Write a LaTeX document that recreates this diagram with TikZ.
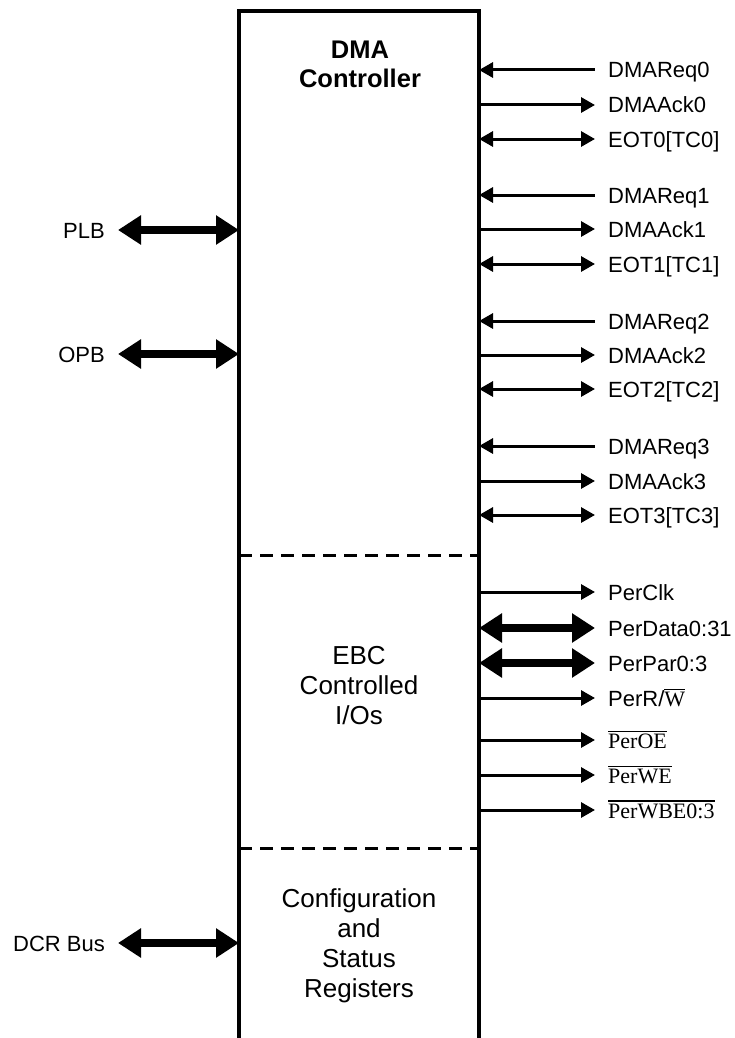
\documentclass[tikz,border=0pt]{standalone}
\usepackage{fontspec}
\setmainfont{Liberation Sans}
\newfontfamily\serifx{Liberation Serif}
\usetikzlibrary{arrows.meta}
\newcommand\ovl[1]{\vbox{\hrule height 1.3pt\kern1.6pt\hbox{#1}}}
\begin{document}
\begin{tikzpicture}[x=1pt,y=-1pt,
  lab/.style={inner sep=0pt, font=\fontsize{22pt}{26pt}\selectfont},
  ctext/.style={align=center, inner sep=0pt, font=\fontsize{26pt}{30pt}\selectfont},
  sigout/.style={line width=3pt, -{Triangle[length=14pt,width=15pt]}, shorten >=13pt},
  sigin/.style={line width=3pt, {Triangle[length=14pt,width=15pt]}-, shorten >=13pt},
  sigbi/.style={line width=3pt, {Triangle[length=14pt,width=15pt]}-{Triangle[length=14pt,width=15pt]}, shorten >=13pt},
  busbi/.style={line width=8pt, {Triangle[length=23pt,width=28pt]}-{Triangle[length=23pt,width=28pt]}, shorten >=13pt},
  divider/.style={line width=3pt, dash pattern=on 13pt off 8pt},
  boxline/.style={line width=4.5pt}
]
\path[use as bounding box] (0,0) rectangle (734,1038);

% main block (open at the bottom)
\coordinate (BL) at (239,1038);
\coordinate (TL) at (239,11);
\coordinate (TR) at (479,11);
\coordinate (BR) at (479,1038);
\draw[boxline] (BL) -- (TL) -- (TR) -- (BR);

% dividers
\coordinate (d1l) at (239,555); \coordinate (d1r) at (479,555);
\coordinate (d2l) at (239,848); \coordinate (d2r) at (479,848);
\draw[divider] (d1l) -- (d1r);
\draw[divider] (d2l) -- (d2r);

% section titles
\node[ctext, font=\bfseries\fontsize{25.5pt}{29pt}\selectfont] (dma) at (360,64.5) {DMA\\Controller};
\node[ctext] (ebc) at (359,686) {EBC\\Controlled\\I/Os};
\node[ctext] (cfg) at (359,946) {Configuration\\and\\Status\\Registers};

% right-hand signals
\foreach \n/\y/\t/\s in {
  a/70/DMAReq0/sigin, b/105/DMAAck0/sigout, c/139/EOT0[TC0]/sigbi,
  d/195/DMAReq1/sigin, e/229/DMAAck1/sigout, f/264/EOT1[TC1]/sigbi,
  g/321/DMAReq2/sigin, h/355/DMAAck2/sigout, i/389/EOT2[TC2]/sigbi,
  j/446/DMAReq3/sigin, k/481/DMAAck3/sigout, l/515/EOT3[TC3]/sigbi,
  m/592/PerClk/sigout}{
  \coordinate (r\n) at (479,\y);
  \node[lab, anchor=base west] (L\n) at (608,\y+8) {\t};
  \draw[\s] (r\n) -- (r\n -| L\n.west);
}
\coordinate (rn) at (479,628);
\node[lab, anchor=base west] (Ln) at (608,636) {PerData0:31};
\draw[busbi] (rn) -- (rn -| Ln.west);
\coordinate (ro) at (479,663);
\node[lab, anchor=base west] (Lo) at (608,671) {PerPar0:3};
\draw[busbi] (ro) -- (ro -| Lo.west);
\coordinate (rp) at (479,698);
\node[lab, anchor=base west] (Lp) at (608,706) {PerR/{\serifx\ovl{W}}};
\draw[sigout] (rp) -- (rp -| Lp.west);
\coordinate (rq) at (479,740);
\node[lab, anchor=base west] (Lq) at (608,748) {\serifx\ovl{PerOE}};
\draw[sigout] (rq) -- (rq -| Lq.west);
\coordinate (rr) at (479,775);
\node[lab, anchor=base west] (Lr) at (608,783) {\serifx\ovl{PerWE}};
\draw[sigout] (rr) -- (rr -| Lr.west);
\coordinate (rs) at (479,810);
\node[lab, anchor=base west] (Ls) at (608,818) {\serifx\ovl{PerWBE0:3}};
\draw[sigout] (rs) -- (rs -| Ls.west);

% left-hand buses
\coordinate (pplb) at (239,230);
\node[lab, anchor=base east] (plb) at (105,238) {PLB};
\draw[busbi] (pplb) -- (pplb -| plb.east);
\coordinate (popb) at (239,354);
\node[lab, anchor=base east] (opb) at (105,362) {OPB};
\draw[busbi] (popb) -- (popb -| opb.east);
\coordinate (pdcr) at (239,943);
\node[lab, anchor=base east] (dcr) at (105,951) {DCR Bus};
\draw[busbi] (pdcr) -- (pdcr -| dcr.east);
\end{tikzpicture}
\end{document}
